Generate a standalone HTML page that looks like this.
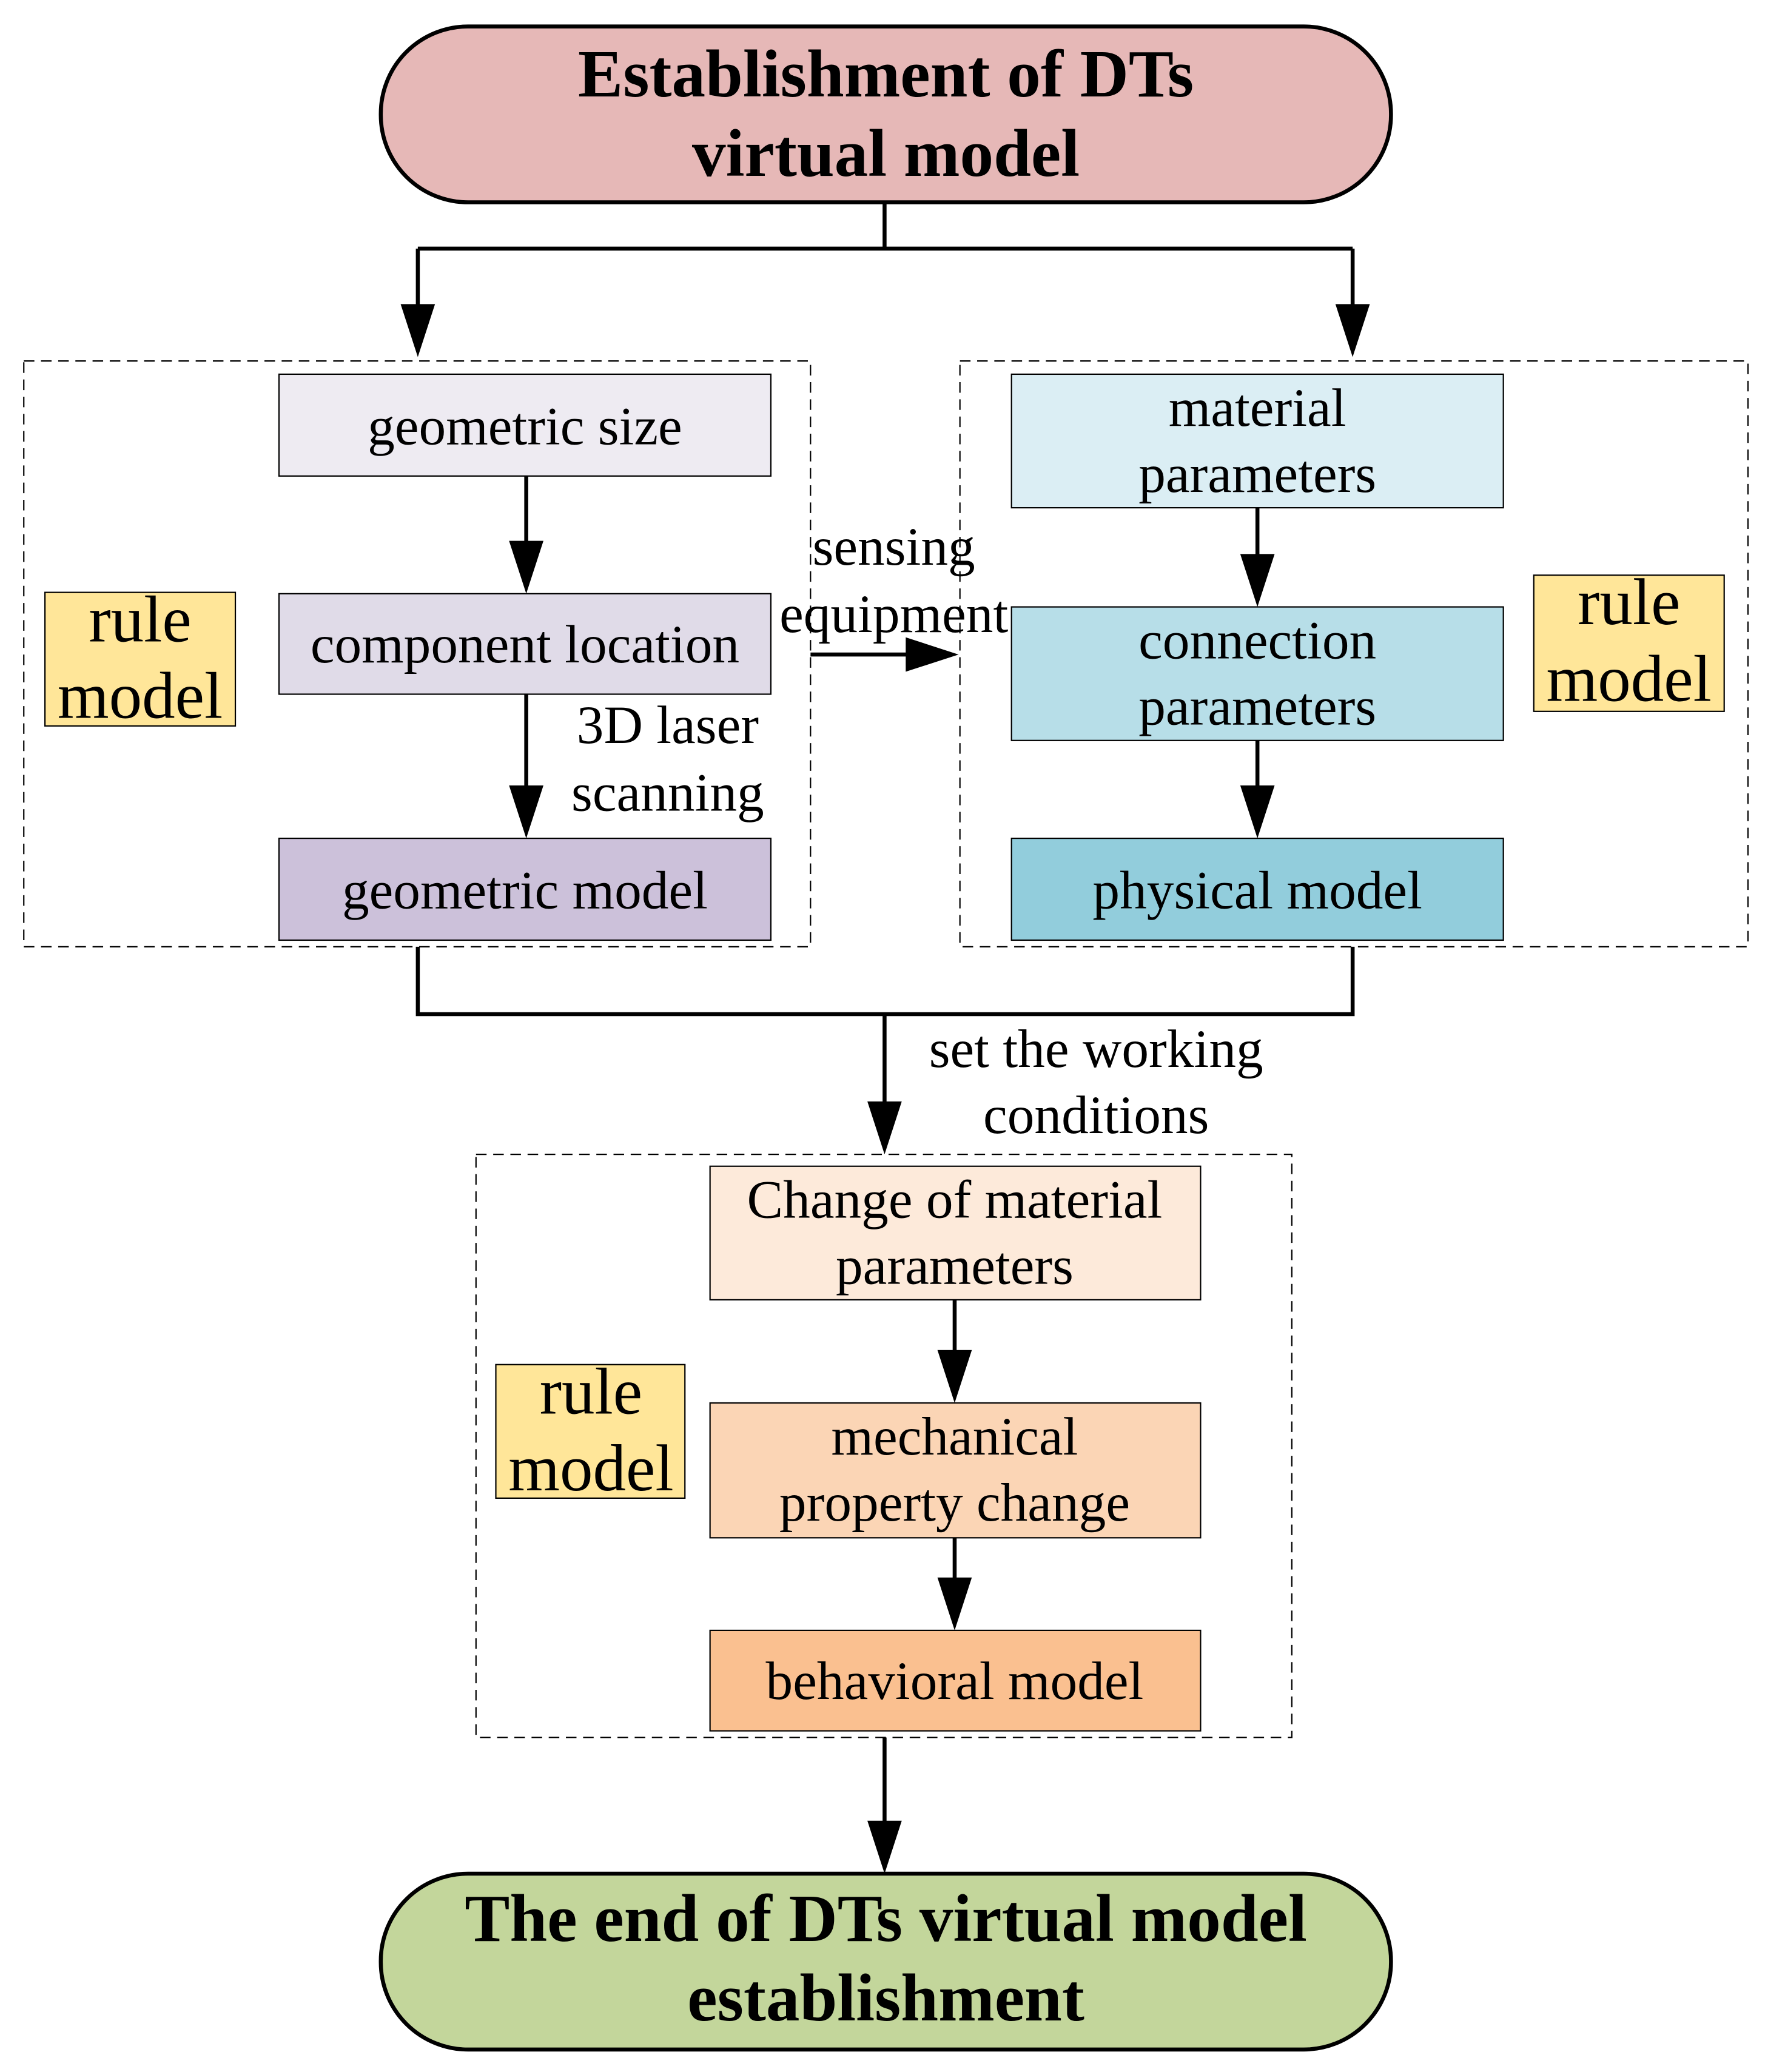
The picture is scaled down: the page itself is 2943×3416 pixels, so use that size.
<!DOCTYPE html>
<html><head><meta charset="utf-8"><style>html,body{margin:0;padding:0;background:#fff}svg{display:block}</style></head>
<body>
<svg width="2943" height="3416" viewBox="0 0 1350 1567" preserveAspectRatio="none" xmlns="http://www.w3.org/2000/svg" font-family="Liberation Serif, serif">
<g fill="none" stroke="#000" stroke-width="1" stroke-dasharray="8,5">
<rect x="18" y="273" width="595" height="443"/>
<rect x="726" y="273" width="596" height="443"/>
<rect x="360" y="873" width="617" height="441"/>
</g>
<rect x="288" y="20" width="764" height="133" rx="66" fill="#e6b8b7" stroke="#000" stroke-width="3"/>
<rect x="288" y="1417" width="764" height="133" rx="66" fill="#c3d69b" stroke="#000" stroke-width="3"/>
<g stroke="#000" stroke-width="1">
<rect x="211" y="283" width="372" height="77" fill="#eeebf2"/>
<rect x="211" y="449" width="372" height="76" fill="#e0dbe8"/>
<rect x="211" y="634" width="372" height="77" fill="#ccc1da"/>
<rect x="34" y="448" width="144" height="101" fill="#ffe699"/>
<rect x="765" y="283" width="372" height="101" fill="#dbeef4"/>
<rect x="765" y="459" width="372" height="101" fill="#b7dee8"/>
<rect x="765" y="634" width="372" height="77" fill="#92cddc"/>
<rect x="1160" y="435" width="144" height="103" fill="#ffe699"/>
<rect x="537" y="882" width="371" height="101" fill="#fdeada"/>
<rect x="537" y="1061" width="371" height="102" fill="#fbd5b5"/>
<rect x="537" y="1233" width="371" height="76" fill="#fac090"/>
<rect x="375" y="1032" width="143" height="101" fill="#ffe699"/>
</g>
<g fill="none" stroke="#000" stroke-width="3">
<path d="M669,153 V188 M316,188 H1023"/>
<path d="M316,188 V235"/>
<path d="M1023,188 V235"/>
<path d="M398,360 V412"/>
<path d="M398,525 V597"/>
<path d="M951,384 V422"/>
<path d="M951,560 V597"/>
<path d="M722,983 V1024"/>
<path d="M722,1163 V1196"/>
<path d="M613,495 H690"/>
<path d="M316,716 V767 H1023 V716"/>
<path d="M669,767 V836"/>
<path d="M669,1314 V1380"/>
</g>
<g fill="#000">
<polygon points="303,230 329,230 316,270"/>
<polygon points="1010,230 1036,230 1023,270"/>
<polygon points="385,409 411,409 398,449"/>
<polygon points="385,594 411,594 398,634"/>
<polygon points="938,419 964,419 951,459"/>
<polygon points="938,594 964,594 951,634"/>
<polygon points="709,1021 735,1021 722,1061"/>
<polygon points="709,1193 735,1193 722,1233"/>
<polygon points="656,833 682,833 669,873"/>
<polygon points="656,1377 682,1377 669,1417"/>
<polygon points="685,482 685,508 725,495"/>
</g>
<g text-anchor="middle" fill="#000">
<g font-weight="bold" font-size="51"><text x="670" y="73">Establishment of DTs</text><text x="670" y="133">virtual model</text>
<text x="670" y="1468">The end of DTs virtual model</text><text x="670" y="1528">establishment</text></g>
<g font-size="41">
<text x="397" y="336">geometric size</text>
<text x="397" y="501">component location</text>
<text x="397" y="687">geometric model</text>
<text x="951" y="322">material</text><text x="951" y="372">parameters</text>
<text x="951" y="498">connection</text><text x="951" y="548">parameters</text>
<text x="951" y="687">physical model</text>
<text x="722" y="921">Change of material</text><text x="722" y="971">parameters</text>
<text x="722" y="1100">mechanical</text><text x="722" y="1150">property change</text>
<text x="722" y="1285">behavioral model</text>
<text x="505" y="562">3D laser</text><text x="505" y="613">scanning</text>
<text x="676" y="427">sensing</text><text x="676" y="478">equipment</text>
<text x="829" y="807">set the working</text><text x="829" y="857">conditions</text>
</g>
<g font-size="50">
<text x="106" y="485">rule</text><text x="106" y="543">model</text>
<text x="1232" y="472">rule</text><text x="1232" y="530">model</text>
<text x="447" y="1069">rule</text><text x="447" y="1127">model</text>
</g>
</g>
</svg>
</body></html>
